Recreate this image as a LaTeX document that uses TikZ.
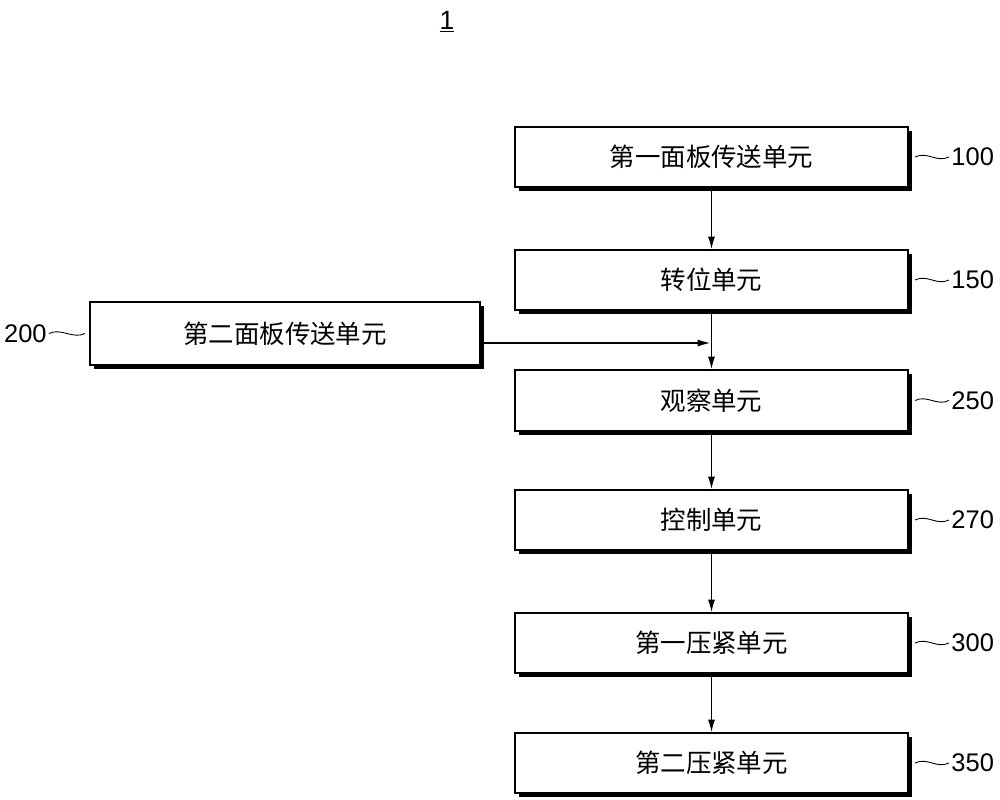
\documentclass[tikz,border=0pt]{standalone}
\usepackage{fontspec}
\setmainfont{Liberation Sans}
\newfontfamily\cjk{Noto Sans CJK SC}
\usetikzlibrary{arrows.meta}
\begin{document}
\begin{tikzpicture}[x=0.02cm,y=-0.02cm,
  unit/.style={draw=black,line width=1.2pt,fill=white,inner sep=0pt},
  txt/.style={font=\cjk\fontsize{14.5}{16}\selectfont},
  arr/.style={-{Latex[length=7pt,width=4pt]},line width=0.6pt},
  lbl/.style={font=\fontsize{14.5}{16}\selectfont,inner sep=0pt},
  sq/.style={line width=0.5pt}]
\useasboundingbox (0,0) rectangle (1000,800);
\node[font=\fontsize{15}{17}\selectfont] (t) at (447,22) {\underline{1}};
\newcommand\ubox[5]{%
 \fill (#2+4,#3+4) rectangle (#4+4,#5+4);
 \node[unit,minimum width={(#4-#2)*0.02cm},minimum height={(#5-#3)*0.02cm}] (#1) at ({(#2+#4)/2},{(#3+#5)/2}) {};}
\ubox{a}{515}{127}{908}{187}
\ubox{b}{515}{250}{908}{310}
\ubox{c}{515}{370}{908}{431}
\ubox{d}{515}{490}{908}{550}
\ubox{e}{515}{613}{908}{673}
\ubox{f}{515}{733}{908}{793}
\ubox{g}{90}{302}{480}{365}
\node[txt] at (a) {第一面板传送单元};
\node[txt] at (b) {转位单元};
\node[txt] at (c) {观察单元};
\node[txt] at (d) {控制单元};
\node[txt] at (e) {第一压紧单元};
\node[txt] at (f) {第二压紧单元};
\node[txt] at (g) {第二面板传送单元};
\draw[arr] (a.south) -- (b.north);
\draw[arr] (b.south) -- (c.north);
\draw[arr] (c.south) -- (d.north);
\draw[arr] (d.south) -- (e.north);
\draw[arr] (e.south) -- (f.north);
\coordinate (j) at (710,343);
\draw[arr] (g.east |- j) -- (j);
\foreach \n/\t in {a/100,b/150,c/250,d/270,e/300,f/350}{
  \node[lbl,anchor=west] (l\t) at ([xshift=42*0.02cm]\n.east) {\t};
  \draw[sq] ([xshift=6*0.02cm]\n.east) .. controls +(12,-6) and +(-12,6) .. ([xshift=-2*0.02cm]l\t.west);
}
\node[lbl,anchor=east] (l200) at ([xshift=-42*0.02cm]g.west) {200};
\draw[sq] ([xshift=2*0.02cm]l200.east) .. controls +(12,-6) and +(-12,6) .. ([xshift=-4*0.02cm]g.west);
\end{tikzpicture}
\end{document}
